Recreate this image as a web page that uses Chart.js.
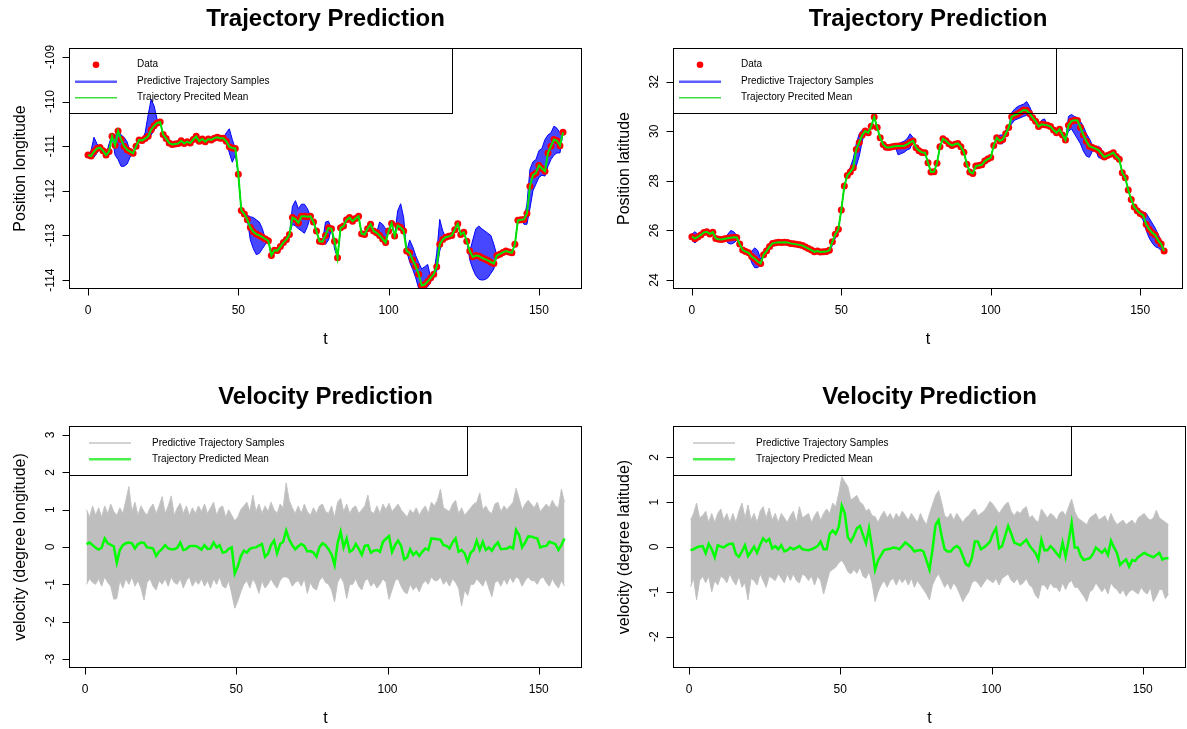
<!DOCTYPE html>
<html>
<head>
<meta charset="utf-8">
<script src="https://cdn.jsdelivr.net/npm/chart.js@4.4.0/dist/chart.umd.min.js"></script>
<style>
html, body { margin: 0; padding: 0; background: #fff; }
#wrap { position: relative; width: 1187px; height: 729px; }
canvas { position: absolute; }
</style>
</head>
<body>
<div id="wrap">
<canvas id="c1" width="593" height="365" style="left:0;top:0;width:593px;height:365px"></canvas>
<canvas id="c2" width="594" height="365" style="left:593px;top:0;width:594px;height:365px"></canvas>
<canvas id="c3" width="593" height="364" style="left:0;top:365px;width:593px;height:364px"></canvas>
<canvas id="c4" width="594" height="364" style="left:593px;top:365px;width:594px;height:364px"></canvas>
</div>
<script>
const lonObs = [
-111.20,-111.22,-111.12,-111.05,-111.03,-111.10,-111.20,-111.12,-110.78,-110.98,
-110.66,-110.85,-111.00,-111.08,-111.12,-111.16,-111.00,-110.86,-110.87,-110.83,
-110.78,-110.63,-110.54,-110.48,-110.46,-110.74,-110.83,-110.93,-110.96,-110.95,
-110.94,-110.88,-110.94,-110.90,-110.93,-110.85,-110.78,-110.89,-110.84,-110.90,
-110.84,-110.86,-110.82,-110.80,-110.82,-110.82,-110.89,-111.01,-111.04,-111.05,
-111.63,-112.44,-112.52,-112.65,-112.82,-112.92,-112.97,-113.00,-113.04,-113.08,
-113.12,-113.45,-113.33,-113.34,-113.25,-113.16,-113.09,-112.98,-112.60,-112.64,
-112.72,-112.57,-112.57,-112.58,-112.57,-112.70,-112.90,-113.13,-113.14,-113.00,
-112.83,-112.85,-113.13,-113.50,-112.83,-112.79,-112.65,-112.60,-112.68,-112.62,
-112.57,-112.96,-112.98,-112.85,-112.75,-112.90,-112.94,-113.00,-113.08,-113.16,
-112.90,-112.73,-113.01,-112.78,-112.82,-112.90,-113.35,-113.39,-113.55,-113.69,
-113.87,-114.12,-114.10,-114.03,-113.95,-113.87,-113.70,-113.20,-113.09,-113.04,
-113.02,-113.00,-112.87,-112.74,-112.98,-112.93,-113.13,-113.35,-113.48,-113.45,
-113.46,-113.50,-113.53,-113.56,-113.60,-113.63,-113.45,-113.42,-113.38,-113.35,
-113.37,-113.39,-113.20,-112.66,-112.65,-112.64,-112.51,-111.90,-111.65,-111.60,
-111.43,-111.50,-111.56,-111.15,-111.00,-110.85,-110.88,-110.99,-110.69];

// upper / lower edge of the blue sample trajectories
const lonHi = [
-111.20,-111.10,-110.80,-110.95,-111.03,-111.10,-111.20,-110.95,-110.74,-110.80,
-110.60,-110.75,-110.80,-110.90,-111.12,-111.16,-111.00,-110.86,-110.87,-110.70,
-110.30,-109.95,-110.10,-110.40,-110.46,-110.74,-110.83,-110.93,-110.96,-110.95,
-110.94,-110.88,-110.94,-110.90,-110.93,-110.85,-110.78,-110.89,-110.84,-110.90,
-110.84,-110.86,-110.82,-110.80,-110.82,-110.82,-110.70,-110.61,-110.85,-111.05,
-111.63,-112.44,-112.52,-112.55,-112.58,-112.60,-112.65,-112.70,-112.85,-113.08,
-113.12,-113.45,-113.33,-113.34,-113.25,-113.16,-113.09,-112.98,-112.35,-112.22,
-112.40,-112.30,-112.30,-112.40,-112.57,-112.70,-112.90,-113.13,-113.14,-112.70,
-112.68,-112.85,-113.13,-113.50,-112.83,-112.79,-112.65,-112.60,-112.68,-112.62,
-112.57,-112.96,-112.98,-112.85,-112.75,-112.90,-112.94,-112.70,-112.75,-112.85,
-112.90,-112.73,-113.01,-112.45,-112.29,-112.60,-113.35,-113.10,-113.25,-113.45,
-113.61,-113.75,-113.70,-113.65,-113.95,-113.87,-113.40,-112.64,-112.90,-113.04,
-113.02,-113.00,-112.87,-112.74,-112.98,-112.93,-113.13,-113.35,-113.10,-112.85,
-112.79,-112.85,-112.90,-112.95,-113.00,-113.20,-113.45,-113.42,-113.38,-113.35,
-113.37,-113.39,-113.20,-112.66,-112.65,-112.64,-112.30,-111.52,-111.35,-111.30,
-111.10,-111.05,-110.85,-110.75,-110.70,-110.55,-110.60,-110.70,-110.69];
const lonLo = [
-111.20,-111.26,-111.25,-111.15,-111.03,-111.10,-111.20,-111.12,-110.78,-111.20,
-111.30,-111.45,-111.45,-111.40,-111.25,-111.16,-111.00,-110.86,-110.87,-110.83,
-110.85,-110.75,-110.65,-110.48,-110.46,-110.74,-110.83,-110.93,-110.96,-110.95,
-110.94,-110.88,-110.94,-110.90,-110.93,-110.85,-110.78,-110.89,-110.84,-110.90,
-110.84,-110.86,-110.82,-110.80,-110.82,-110.82,-110.89,-111.15,-111.36,-111.20,
-111.63,-112.44,-112.52,-112.65,-113.10,-113.30,-113.43,-113.40,-113.30,-113.20,
-113.12,-113.45,-113.33,-113.34,-113.25,-113.16,-113.09,-112.98,-112.75,-112.79,
-112.85,-112.90,-112.95,-112.80,-112.57,-112.70,-112.90,-113.13,-113.14,-113.20,
-113.10,-112.85,-113.30,-113.50,-112.83,-112.79,-112.65,-112.60,-112.68,-112.62,
-112.57,-112.96,-112.98,-112.85,-112.75,-112.90,-112.94,-113.00,-113.08,-113.16,
-112.90,-112.73,-113.01,-112.78,-112.82,-112.90,-113.35,-113.60,-113.76,-113.95,
-114.19,-114.19,-114.19,-114.15,-114.05,-113.87,-113.80,-113.35,-113.09,-113.04,
-113.02,-113.00,-112.87,-112.74,-112.98,-112.93,-113.13,-113.55,-113.75,-113.90,
-113.98,-114.00,-113.99,-113.95,-113.85,-113.75,-113.45,-113.42,-113.38,-113.35,
-113.37,-113.39,-113.20,-112.66,-112.65,-112.75,-112.75,-112.40,-112.00,-111.85,
-111.70,-111.65,-111.67,-111.45,-111.30,-111.20,-111.15,-111.15,-110.69];

const latObs = [
25.75,25.67,25.74,25.82,25.92,25.95,25.86,25.93,25.68,25.65,
25.64,25.67,25.69,25.71,25.73,25.72,25.45,25.21,25.15,25.10,
24.95,24.86,24.75,24.67,25.02,25.18,25.35,25.48,25.51,25.53,
25.52,25.53,25.52,25.48,25.46,25.44,25.42,25.39,25.33,25.27,
25.21,25.14,25.17,25.13,25.14,25.15,25.20,25.55,25.85,26.05,
26.83,27.79,28.22,28.36,28.53,29.27,29.55,29.85,30.01,29.94,
30.20,30.58,30.15,29.74,29.47,29.36,29.35,29.38,29.40,29.41,
29.41,29.42,29.47,29.55,29.61,29.34,29.22,29.15,29.14,28.73,
28.36,28.37,28.71,29.38,29.70,29.62,29.50,29.43,29.48,29.51,
29.38,29.16,28.67,28.36,28.30,28.60,28.62,28.65,28.80,28.88,
28.94,29.43,29.74,29.61,29.67,29.90,30.15,30.59,30.65,30.70,
30.78,30.86,30.84,30.72,30.55,30.41,30.19,30.28,30.26,30.24,
30.19,30.05,29.94,30.08,29.85,29.65,30.24,30.41,30.45,30.44,
30.15,29.85,29.60,29.40,29.35,29.30,29.24,29.10,28.96,29.02,
29.07,29.14,28.98,28.87,28.33,28.13,27.63,27.25,26.95,26.80,
26.69,26.61,26.25,26.05,25.91,25.82,25.60,25.45,25.17];
const latHi = [
25.85,25.95,25.85,25.82,25.92,25.95,25.86,25.93,25.68,25.65,
25.64,25.67,25.85,26.00,25.95,25.80,25.45,25.21,25.15,25.10,
25.15,25.30,25.20,24.85,25.02,25.18,25.35,25.48,25.51,25.53,
25.52,25.53,25.52,25.48,25.46,25.44,25.42,25.39,25.33,25.27,
25.21,25.14,25.17,25.13,25.14,25.15,25.20,25.55,25.85,26.05,
26.83,27.79,28.22,28.55,28.90,29.50,29.90,30.05,30.01,29.94,
30.20,30.58,30.15,29.74,29.47,29.36,29.35,29.38,29.40,29.50,
29.55,29.60,29.70,29.90,29.75,29.34,29.22,29.15,29.14,28.73,
28.36,28.37,28.71,29.38,29.70,29.62,29.50,29.43,29.48,29.51,
29.38,29.16,28.67,28.36,28.30,28.60,28.62,28.65,28.80,28.88,
28.94,29.43,29.74,29.85,29.85,30.05,30.15,30.75,30.90,31.00,
31.05,31.10,31.20,31.00,30.70,30.41,30.19,30.45,30.50,30.24,
30.19,30.05,29.94,30.08,29.85,29.65,30.60,30.68,30.60,30.55,
30.40,30.20,29.90,29.70,29.45,29.30,29.40,29.30,28.96,29.02,
29.07,29.14,28.98,28.87,28.33,28.13,27.63,27.25,26.95,26.80,
26.69,26.75,26.70,26.50,26.30,26.10,25.85,25.60,25.17];
const latLo = [
25.60,25.50,25.60,25.82,25.92,25.95,25.86,25.93,25.68,25.65,
25.64,25.67,25.50,25.45,25.50,25.60,25.45,25.21,25.15,25.10,
24.70,24.50,24.50,24.60,25.02,25.18,25.35,25.48,25.51,25.53,
25.52,25.53,25.52,25.48,25.46,25.44,25.42,25.39,25.33,25.27,
25.21,25.14,25.17,25.13,25.14,25.15,25.14,25.40,25.70,26.05,
26.83,27.79,28.22,28.30,28.40,28.60,29.00,29.60,30.01,29.94,
30.20,30.58,30.15,29.74,29.47,29.36,29.35,29.38,29.40,29.05,
29.10,29.15,29.25,29.30,29.61,29.34,29.22,29.15,29.14,28.73,
28.36,28.37,28.71,29.38,29.70,29.62,29.50,29.43,29.48,29.51,
29.38,29.16,28.67,28.36,28.30,28.60,28.62,28.65,28.80,28.88,
28.94,29.43,29.74,29.50,29.50,29.90,30.15,30.30,30.45,30.50,
30.55,30.60,30.65,30.55,30.40,30.41,30.19,30.28,30.26,30.24,
30.19,30.05,29.94,30.08,29.85,29.65,30.00,30.10,29.90,29.70,
29.50,29.20,29.00,28.95,29.20,29.30,28.95,28.90,28.96,29.02,
29.07,29.14,28.98,28.87,28.33,28.13,27.63,27.25,26.95,26.80,
26.69,26.40,26.00,25.70,25.50,25.35,25.30,25.20,25.17];

// velocities, t = 0.5 .. 158.5
const vlonMean = [
0.08,0.12,0.05,-0.02,-0.07,-0.02,0.23,0.10,0.06,0.02,
-0.42,-0.08,0.05,0.10,0.12,0.10,-0.04,0.08,0.12,0.11,
-0.01,-0.02,-0.04,-0.24,-0.12,-0.05,0.05,-0.04,-0.06,-0.06,
-0.02,0.12,-0.08,-0.06,0.02,0.03,0.03,-0.01,-0.07,0.05,
-0.05,-0.04,0.12,-0.01,0.05,-0.15,-0.13,-0.05,-0.01,-0.71,
-0.52,-0.25,-0.10,-0.15,-0.05,-0.02,-0.01,0.04,0.08,-0.26,
-0.18,0.05,0.17,-0.17,0.08,0.14,0.44,0.20,0.05,-0.06,
0.02,0.08,0.03,-0.12,-0.11,-0.15,-0.26,-0.01,0.10,0.05,
-0.06,-0.20,-0.48,0.10,0.41,-0.01,0.23,-0.13,-0.08,0.08,
-0.05,-0.21,0.03,0.05,-0.15,-0.10,-0.08,-0.13,0.14,0.22,
0.29,-0.13,0.05,0.17,0.03,-0.33,-0.28,-0.06,-0.21,-0.13,
-0.24,-0.13,-0.04,-0.08,0.23,0.22,0.21,0.19,0.05,0.03,
-0.04,0.12,0.23,-0.13,-0.08,-0.17,-0.39,-0.15,-0.08,0.17,
-0.08,0.14,-0.08,-0.01,-0.10,0.04,0.12,-0.06,-0.05,-0.04,
0.01,-0.04,0.46,0.32,-0.01,0.12,0.28,0.28,0.25,0.23,
-0.01,0.02,0.03,0.14,0.11,0.08,-0.08,0.05,0.23];
const vlonHi = [
1.00,0.80,1.10,0.85,1.05,0.80,1.10,0.90,1.15,0.95,
0.85,1.05,0.90,1.25,1.62,0.95,1.20,0.85,1.10,0.95,
0.85,1.05,1.15,0.90,1.10,1.35,0.90,1.10,1.37,0.85,
1.05,1.17,0.90,1.10,0.85,1.05,0.90,1.10,0.95,1.15,
0.90,1.05,1.20,0.85,1.05,1.10,0.80,1.00,0.85,0.70,
0.80,1.00,1.10,1.20,0.95,1.39,0.95,1.15,0.90,1.10,
0.95,1.20,1.00,0.90,1.15,1.05,1.72,1.25,1.05,0.90,
1.10,0.90,1.15,0.95,0.85,1.05,0.90,1.10,1.15,0.95,
0.90,1.10,0.80,1.20,1.30,0.95,1.15,0.90,1.05,1.10,
0.90,1.00,1.10,1.39,0.95,0.90,1.10,0.90,1.15,1.00,
1.17,0.95,1.05,1.15,1.00,0.90,0.80,1.00,0.90,1.05,
0.85,1.00,1.10,0.90,1.20,1.10,1.25,1.55,1.05,1.00,
0.95,1.15,1.25,0.90,1.05,0.85,0.95,1.05,1.15,1.20,
1.45,1.00,1.10,0.95,0.90,1.15,1.20,0.95,1.10,1.00,
1.10,1.20,1.57,1.30,1.00,1.15,1.25,1.15,1.05,1.20,
0.95,1.05,1.15,1.05,1.25,1.10,1.05,1.55,1.20];
const vlonLo = [
-1.00,-0.85,-0.95,-1.00,-0.85,-1.05,-0.80,-0.95,-1.05,-1.40,
-1.38,-0.90,-1.10,-0.85,-1.00,-0.80,-1.05,-0.90,-1.10,-1.42,
-0.95,-0.85,-1.05,-1.15,-0.90,-1.00,-0.85,-1.05,-0.80,-0.95,
-1.00,-0.85,-1.10,-0.90,-0.80,-1.05,-0.90,-1.00,-0.85,-1.05,
-0.90,-1.10,-0.85,-1.00,-0.80,-1.05,-1.10,-0.90,-1.25,-1.64,
-1.45,-1.20,-1.00,-0.90,-1.10,-0.85,-1.00,-1.24,-0.90,-1.10,
-1.00,-0.85,-1.00,-1.10,-0.90,-0.80,-0.80,-0.85,-1.05,-0.95,
-0.90,-1.05,-0.85,-1.24,-0.95,-1.10,-1.15,-0.90,-0.80,-0.95,
-1.00,-1.15,-1.47,-0.95,-0.80,-0.95,-1.38,-1.00,-1.00,-0.85,
-1.05,-1.15,-0.90,-0.85,-1.05,-0.95,-1.10,-1.00,-0.85,-0.95,
-1.40,-1.15,-0.90,-0.85,-1.05,-1.20,-1.25,-1.00,-1.15,-1.05,
-1.20,-1.00,-0.90,-1.00,-0.80,-0.90,-0.90,-0.80,-1.00,-0.90,
-1.05,-0.85,-0.95,-1.10,-1.58,-1.15,-1.30,-1.00,-1.00,-0.85,
-0.95,-1.05,-0.85,-1.10,-1.33,-0.95,-0.90,-1.05,-0.85,-1.00,
-0.80,-0.95,-0.80,-0.85,-1.05,-0.90,-0.80,-0.90,-0.90,-1.00,
-0.85,-0.80,-0.95,-1.05,-0.85,-1.00,-1.10,-0.90,-1.05];

const vlatMean = [
-0.07,-0.05,-0.01,0.01,0.02,-0.14,0.07,-0.05,-0.23,0.04,
0.01,-0.01,0.04,0.07,0.07,-0.16,-0.22,-0.10,0.04,-0.20,
-0.10,0.01,-0.13,0.05,0.19,0.12,0.18,-0.03,0.02,-0.05,
0.04,-0.10,-0.07,-0.01,-0.05,-0.02,0.02,-0.05,-0.06,-0.07,
-0.05,-0.02,0.02,0.12,-0.05,-0.05,0.29,0.37,0.29,0.45,
0.92,0.75,0.22,0.12,0.25,0.42,0.47,0.27,0.08,0.42,
-0.01,-0.51,-0.30,-0.18,-0.07,-0.05,-0.04,-0.01,-0.02,-0.05,
0.02,0.10,0.05,-0.01,-0.10,-0.08,-0.07,-0.10,-0.30,-0.51,
-0.05,0.49,0.60,0.25,-0.05,-0.10,-0.10,-0.02,0.02,-0.03,
-0.20,-0.38,-0.42,-0.25,0.12,0.12,-0.05,-0.01,0.05,0.12,
0.30,0.42,-0.03,0.02,0.25,0.47,0.30,0.10,0.07,0.04,
0.10,0.16,0.04,-0.05,-0.13,-0.28,0.16,-0.07,-0.07,0.02,
-0.05,-0.14,-0.22,0.10,-0.22,0.14,0.54,-0.01,-0.01,-0.20,
-0.29,-0.27,-0.25,-0.16,-0.01,-0.07,-0.13,-0.05,-0.18,0.14,
-0.01,-0.14,-0.40,-0.33,-0.28,-0.44,-0.29,-0.31,-0.22,-0.18,
-0.13,-0.17,-0.20,-0.23,-0.18,-0.13,-0.28,-0.25,-0.25];
const vlatHi = [
0.60,0.75,0.98,0.65,0.70,0.80,0.55,0.75,0.55,0.75,
0.85,0.60,0.75,0.55,0.75,0.55,0.80,0.98,0.65,0.94,
0.60,0.75,0.55,0.80,0.90,0.65,0.87,0.60,0.75,0.55,
0.75,0.65,0.55,0.70,0.80,0.55,0.90,0.65,0.70,0.75,
0.55,0.70,0.80,0.60,0.75,0.85,0.75,0.98,0.90,1.20,
1.57,1.45,1.35,1.05,1.10,1.15,1.00,0.95,0.80,0.85,
0.70,0.68,0.55,0.70,0.80,0.65,0.75,0.60,0.75,0.65,
0.80,0.70,0.60,0.75,0.65,0.55,0.75,0.60,0.50,0.75,
0.95,1.15,1.26,1.00,0.70,0.65,0.75,0.60,0.75,0.65,
0.55,0.65,0.70,0.80,0.85,0.70,0.75,0.80,0.90,1.02,
0.95,0.85,0.75,0.85,0.95,1.00,0.80,0.70,0.80,0.75,
0.85,0.90,0.65,0.70,0.60,0.55,0.85,0.75,0.65,0.75,
0.70,0.60,0.75,0.80,0.70,0.90,1.07,0.80,0.65,0.60,
0.55,0.50,0.65,0.70,0.75,0.60,0.65,0.70,0.55,0.75,
0.60,0.50,0.55,0.60,0.50,0.55,0.60,0.50,0.65,0.70,
0.75,0.65,0.60,0.65,0.82,0.65,0.60,0.55,0.50];
const vlatLo = [
-0.89,-0.70,-1.18,-0.75,-0.65,-0.80,-0.65,-1.00,-0.75,-0.85,
-0.65,-0.70,-0.80,-0.60,-0.75,-0.85,-0.65,-0.90,-0.80,-1.18,
-0.70,-0.75,-0.85,-0.60,-0.75,-0.90,-0.65,-0.70,-0.75,-0.60,
-0.70,-0.80,-0.60,-0.75,-0.60,-0.75,-0.80,-0.60,-0.65,-0.75,
-0.65,-0.85,-0.65,-0.75,-1.05,-0.80,-0.55,-0.50,-0.45,-0.35,
-0.30,-0.40,-0.55,-0.60,-0.50,-0.59,-0.45,-0.65,-0.70,-0.55,
-0.80,-1.22,-1.00,-0.85,-0.75,-0.90,-0.75,-0.70,-0.85,-0.70,
-0.80,-0.70,-0.85,-0.70,-0.90,-0.75,-0.85,-0.95,-1.05,-1.18,
-0.85,-0.70,-0.60,-0.75,-0.90,-0.80,-0.95,-0.80,-0.90,-1.05,
-1.22,-1.10,-1.00,-0.80,-0.75,-0.80,-0.90,-0.80,-0.70,-0.75,
-0.80,-0.70,-0.85,-0.70,-0.65,-0.60,-0.74,-0.80,-0.70,-0.85,
-0.80,-0.70,-0.85,-0.90,-1.07,-1.15,-0.85,-0.85,-0.95,-0.80,
-0.90,-0.90,-1.00,-0.80,-0.95,-0.80,-0.75,-0.90,-0.90,-1.00,
-1.10,-1.22,-1.00,-0.95,-0.80,-0.90,-1.00,-0.90,-1.05,-0.80,
-0.90,-0.95,-1.05,-0.95,-1.10,-1.00,-0.95,-1.00,-1.05,-0.90,
-1.00,-1.05,-0.90,-1.22,-1.10,-0.95,-0.95,-1.15,-1.05];

const xTicks = [0, 50, 100, 150];
const lonTicks = [-114, -113, -112, -111, -110, -109];
const latTicks = [24, 26, 28, 30, 32];
const vlonTicks = [-3, -2, -1, 0, 1, 2, 3];
const vlatTicks = [-2, -1, 0, 1, 2];

const FONT = '"Liberation Sans", Arial, Helvetica, sans-serif';

// R base graphics look: box, outward ticks, rotated y labels, title, legend
const rStyle = {
  id: 'rStyle',
  afterDraw(chart, args, o) {
    const ctx = chart.ctx;
    const a = chart.chartArea;
    const sx = chart.scales.x, sy = chart.scales.y;
    const L = Math.round(a.left) + 0.5, T = Math.round(a.top) + 0.5;
    const R = Math.round(a.right) - 0.5, B = Math.round(a.bottom) - 0.5;
    ctx.save();
    ctx.strokeStyle = '#000';
    ctx.lineWidth = 1;
    ctx.strokeRect(L, T, R - L, B - T);

    ctx.beginPath();
    o.xTicks.forEach(v => {
      const px = Math.round(sx.getPixelForValue(v)) + 0.5;
      ctx.moveTo(px, B); ctx.lineTo(px, B + 7);
    });
    o.yTicks.forEach(v => {
      const py = Math.round(sy.getPixelForValue(v)) + 0.5;
      ctx.moveTo(L, py); ctx.lineTo(L - 7, py);
    });
    ctx.stroke();

    ctx.fillStyle = '#000';
    ctx.font = '12px ' + FONT;
    ctx.textAlign = 'center';
    ctx.textBaseline = 'middle';
    o.xTicks.forEach(v => ctx.fillText(String(v), sx.getPixelForValue(v), B + 22));
    o.yTicks.forEach(v => {
      ctx.save();
      ctx.translate(L - 19, sy.getPixelForValue(v));
      ctx.rotate(-Math.PI / 2);
      ctx.fillText(String(v), 0, 0);
      ctx.restore();
    });

    const cx = (a.left + a.right) / 2, cy = (a.top + a.bottom) / 2;
    ctx.font = '16px ' + FONT;
    ctx.fillText('t', cx, B + 51);
    ctx.save();
    ctx.translate(a.left - 48, cy);
    ctx.rotate(-Math.PI / 2);
    ctx.fillText(o.ylab, 0, 0);
    ctx.restore();

    ctx.font = 'bold 24px ' + FONT;
    ctx.fillText(o.title, cx, a.top - 29);

    // legend
    const lg = o.legend;
    ctx.strokeStyle = '#000';
    ctx.lineWidth = 1;
    ctx.strokeRect(L, T, lg.w, lg.h);
    ctx.font = '10px ' + FONT;
    ctx.textAlign = 'left';
    lg.items.forEach((it, k) => {
      const y = a.top + lg.rows[k];
      if (it.dot) {
        ctx.fillStyle = it.color;
        ctx.beginPath();
        ctx.arc(a.left + lg.dotX, y, 3.3, 0, Math.PI * 2);
        ctx.fill();
      } else {
        ctx.strokeStyle = it.color;
        ctx.lineWidth = it.width;
        ctx.beginPath();
        ctx.moveTo(a.left + lg.lineX[0], y);
        ctx.lineTo(a.left + lg.lineX[1], y);
        ctx.stroke();
      }
      ctx.fillStyle = '#000';
      ctx.fillText(it.text, a.left + lg.textX, y);
    });
    ctx.restore();
  }
};

function baseOptions(pad, xMin, xMax, yMin, yMax, rOpts) {
  return {
    responsive: false,
    animation: false,
    events: [],
    layout: { padding: pad },
    scales: {
      x: { type: 'linear', min: xMin, max: xMax, display: false },
      y: { type: 'linear', min: yMin, max: yMax, display: false }
    },
    elements: { line: { tension: 0 } },
    plugins: { legend: { display: false }, tooltip: { enabled: false }, rStyle: rOpts }
  };
}

const trajLegend = {
  w: 383, h: 65, rows: [16.7, 33.7, 49.7], dotX: 27, lineX: [6, 48], textX: 68,
  items: [
    { dot: true, color: '#ff0000', text: 'Data' },
    { color: '#5c5cff', width: 2.5, text: 'Predictive Trajectory Samples' },
    { color: '#3ddd3d', width: 1.5, text: 'Trajectory Precited Mean' }
  ]
};
const velLegend = {
  w: 398, h: 49, rows: [17, 33.3], dotX: 0, lineX: [20, 62], textX: 83,
  items: [
    { color: '#c4c4c4', width: 1.3, text: 'Predictive Trajectory Samples' },
    { color: '#4cf04c', width: 2.5, text: 'Trajectory Predicted Mean' }
  ]
};

function trajChart(id, obs, hi, lo, pad, yMin, yMax, yTicks, ylab) {
  const t = obs.map((_, i) => i);
  new Chart(document.getElementById(id), {
    type: 'line',
    data: {
      labels: t,
      datasets: [
        { data: obs, borderColor: '#00e600', borderWidth: 2, pointRadius: 0, order: 1 },
        { data: obs, showLine: false, pointRadius: 3.5, pointBorderWidth: 0,
          pointBackgroundColor: '#ff0000', order: 2 },
        { data: hi, borderColor: '#0000ff', borderWidth: 1, pointRadius: 0,
          fill: '+1', backgroundColor: 'rgba(0,0,255,0.72)', order: 3 },
        { data: lo, borderColor: '#0000ff', borderWidth: 1, pointRadius: 0, order: 4 }
      ]
    },
    options: baseOptions(pad, -6.32, 164.32, yMin, yMax,
      { title: 'Trajectory Prediction', ylab, xTicks, yTicks, legend: trajLegend }),
    plugins: [rStyle]
  });
}

function velChart(id, mean, hi, lo, pad, yMin, yMax, yTicks, ylab) {
  const t = mean.map((_, i) => i + 0.5);
  new Chart(document.getElementById(id), {
    type: 'line',
    data: {
      labels: t,
      datasets: [
        { data: mean, borderColor: '#00ff00', borderWidth: 2.5, pointRadius: 0, order: 1 },
        { data: hi, borderColor: '#c4c4c4', borderWidth: 1, pointRadius: 0,
          fill: '+1', backgroundColor: '#bebebe', order: 2 },
        { data: lo, borderColor: '#c4c4c4', borderWidth: 1, pointRadius: 0, order: 3 }
      ]
    },
    options: baseOptions(pad, -5.3, 164.3, yMin, yMax,
      { title: 'Velocity Prediction', ylab, xTicks, yTicks, legend: velLegend }),
    plugins: [rStyle]
  });
}

trajChart('c1', lonObs, lonHi, lonLo, { left: 69, top: 48, right: 11, bottom: 76 },
  -114.2, -108.8, lonTicks, 'Position longitude');
trajChart('c2', latObs, latHi, latLo, { left: 80, top: 48, right: 1, bottom: 76 },
  23.64, 33.36, latTicks, 'Position latitude');
velChart('c3', vlonMean, vlonHi, vlonLo, { left: 69, top: 61, right: 11, bottom: 61 },
  -3.24, 3.24, vlonTicks, 'velocity (degree longitude)');
velChart('c4', vlatMean, vlatHi, vlatLo, { left: 80, top: 61, right: 1, bottom: 61 },
  -2.7, 2.7, vlatTicks, 'velocity (degree latitude)');
</script>
</body>
</html>
